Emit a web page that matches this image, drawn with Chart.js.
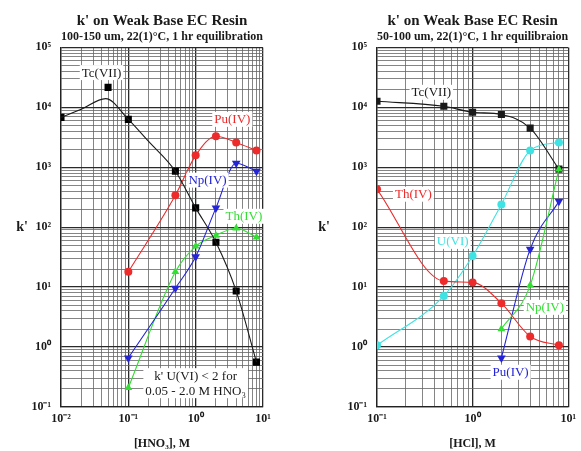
<!DOCTYPE html>
<html lang="en">
<head>
<meta charset="UTF-8">
<title>k' on Weak Base EC Resin</title>
<script src="https://cdn.jsdelivr.net/npm/chart.js"></script>
<style>
  body { margin: 0; background: #fff; }
  .panel { position: absolute; top: 0; }
</style>
</head>
<body>
<canvas id="hno3Chart" class="panel" width="290" height="451" style="left:0"></canvas>
<canvas id="hclChart" class="panel" width="291" height="451" style="left:290px"></canvas>

<script>
// ---- HNO3 panel ----
const hno3Conc = [0.1, 0.5, 1, 2, 4, 8];
const tcHno3Conc = [0.01, 0.05, 0.1, 0.5, 1, 2, 4, 8];
const tcHno3K = [6800, 21500, 6300, 860, 210, 56, 8.6, 0.56];
// fitted curve as drawn in the figure (misses the 0.05 M point)
const tcHno3FitConc = [0.01, 0.02, 0.046, 0.1, 0.2, 0.5, 1, 2, 4, 8];
const tcHno3FitK = [6800, 9300, 14000, 6300, 2700, 860, 210, 56, 8.6, 0.56];
const puHno3K = [18, 340, 1580, 3300, 2600, 1900];
const npHno3K = [0.66, 9.6, 32, 210, 1170, 860];
const thHno3K = [0.21, 18, 48, 73, 96, 68];

// ---- HCl panel ----
const hclConc = [0.1, 0.5, 1, 2, 4, 8];
const tcHclK = [12600, 10400, 8300, 7600, 4500, 930];
const thHclK = [430, 12.6, 12, 5.4, 1.5, 1.07];
const uHclK = [1.07, 7.1, 33, 240, 1900, 2600];
const hclHighConc = [2, 4, 8];
const npHclK = [2.0, 10.7, 930];
const puHclK = [0.66, 43, 270];

// ---- axis decades and their labels ----
const yDecades = [-1, 0, 1, 2, 3, 4, 5];
const yDecadeLabels = ['10\u207B\u00B9', '10\u2070', '10\u00B9', '10\u00B2', '10\u00B3', '10\u2074', '10\u2075'];
const xDecadesHno3 = [-2, -1, 0, 1];
const xDecadeLabelsHno3 = ['10\u207B\u00B2', '10\u207B\u00B9', '10\u2070', '10\u00B9'];
const xDecadesHcl = [-1, 0, 1];
const xDecadeLabelsHcl = ['10\u207B\u00B9', '10\u2070', '10\u00B9'];

const SERIF = '"Liberation Serif", "Times New Roman", serif';
const BLACK = '#1a1a1a', RED = '#ee2b2b', BLUE = '#2424d6', GREEN = '#33df33', CYAN = '#3fe3e3';

const pts = (xs, ys) => xs.map((x, i) => ({ x, y: ys[i] }));

// every 1..9 x 10^n between the first and last decade
function logTicks(decades) {
    const ticks = [];
    for (let i = 0; i < decades.length - 1; i++) {
        for (let k = 1; k <= 9; k++) {
            ticks.push({ value: Number((k * Math.pow(10, decades[i])).toPrecision(3)) });
        }
    }
    ticks.push({ value: Math.pow(10, decades[decades.length - 1]) });
    return ticks;
}

function isDecade(v) {
    const l = Math.log10(v);
    return Math.abs(l - Math.round(l)) < 1e-6;
}

function decadeLabel(decades, labels) {
    return v => isDecade(v) ? labels[decades.indexOf(Math.round(Math.log10(v)))] : '';
}

const gridStyle = {
    color: c => isDecade(c.tick.value) ? '#2a2a2a' : '#666',
    lineWidth: c => isDecade(c.tick.value) ? 1.3 : 0.8,
    drawTicks: false
};

// text labels inside the plot and the upright k' axis label
const notesPlugin = {
    id: 'notes',
    afterDatasetsDraw(chart, args, opts) {
        const { ctx, chartArea } = chart;
        const xs = chart.scales.x, ys = chart.scales.y;
        ctx.save();
        ctx.font = '13px ' + SERIF;
        ctx.textAlign = 'center';
        ctx.textBaseline = 'middle';
        opts.items.forEach(n => {
            const px = xs.getPixelForValue(n.x), py = ys.getPixelForValue(n.y);
            const lines = n.text.split('\n');
            const w = Math.max(...lines.map(l => ctx.measureText(l).width)) + 4;
            const h = lines.length * 15;
            ctx.fillStyle = '#fff';
            ctx.fillRect(px - w / 2, py - h / 2, w, h);
            ctx.fillStyle = n.color;
            lines.forEach((l, i) => ctx.fillText(l, px, py - h / 2 + 8 + i * 15));
        });
        ctx.font = 'bold 14px ' + SERIF;
        ctx.fillStyle = BLACK;
        ctx.fillText("k'", chartArea.left - opts.axisOffset, (chartArea.top + chartArea.bottom) / 2);
        ctx.restore();
    }
};

function makeOptions(subtitle, xTitle, xDecades, xLabels, yWidth, padRight, notes, axisOffset) {
    return {
        responsive: false,
        animation: false,
        layout: { padding: { left: 0, right: padRight, top: 0, bottom: 0 } },
        plugins: {
            legend: { display: false },
            tooltip: { enabled: false },
            title: {
                display: true, fullSize: false,
                text: "k' on Weak Base EC Resin",
                color: BLACK,
                font: { family: SERIF, size: 15, weight: 'bold' },
                padding: { top: 12, bottom: 0 }
            },
            subtitle: {
                display: true, fullSize: false,
                text: subtitle,
                color: BLACK,
                font: { family: SERIF, size: 12, weight: 'bold' },
                padding: { top: 0, bottom: 3 }
            },
            notes: { items: notes, axisOffset }
        },
        scales: {
            x: {
                type: 'logarithmic',
                min: Math.pow(10, xDecades[0]),
                max: Math.pow(10, xDecades[xDecades.length - 1]),
                afterBuildTicks: s => { s.ticks = logTicks(xDecades); },
                afterFit: s => { s.height = 44; },
                grid: gridStyle,
                border: { color: '#222', width: 1.3 },
                ticks: {
                    autoSkip: false, maxRotation: 0, padding: 5,
                    color: BLACK,
                    font: { family: SERIF, size: 12, weight: 'bold' },
                    callback: decadeLabel(xDecades, xLabels)
                },
                title: {
                    display: true, text: xTitle, color: BLACK,
                    font: { family: SERIF, size: 12, weight: 'bold' },
                    padding: { top: 0, bottom: 0 }
                }
            },
            y: {
                type: 'logarithmic',
                min: 0.1,
                max: 100000,
                afterBuildTicks: s => { s.ticks = logTicks(yDecades); },
                afterFit: s => { s.width = yWidth; },
                grid: gridStyle,
                border: { color: '#222', width: 1.3 },
                ticks: {
                    autoSkip: false, padding: 10,
                    color: BLACK,
                    font: { family: SERIF, size: 12, weight: 'bold' },
                    callback: decadeLabel(yDecades, yDecadeLabels)
                }
            }
        }
    };
}

function lineSet(data, color, pointStyle, radius, rotation) {
    return {
        data, borderColor: color, backgroundColor: color,
        borderWidth: 1.1, pointStyle, pointRadius: radius, pointRotation: rotation || 0,
        pointBorderWidth: 0, cubicInterpolationMode: 'monotone'
    };
}

new Chart(document.getElementById('hno3Chart'), {
    type: 'line',
    data: {
        datasets: [
            { data: pts(tcHno3FitConc, tcHno3FitK), borderColor: BLACK, borderWidth: 1.1, pointRadius: 0, cubicInterpolationMode: 'monotone' },
            { data: pts(tcHno3Conc, tcHno3K), showLine: false, pointStyle: 'rect', pointRadius: 5, backgroundColor: '#000', borderColor: '#000', pointBorderWidth: 0 },
            lineSet(pts(hno3Conc, puHno3K), RED, 'circle', 4),
            lineSet(pts(hno3Conc, npHno3K), BLUE, 'triangle', 5, 180),
            lineSet(pts(hno3Conc, thHno3K), GREEN, 'triangle', 4.5)
        ]
    },
    options: makeOptions('100-150 um, 22(1)\u00B0C, 1 hr equilibration', '[HNO\u2083], M',
        xDecadesHno3, xDecadeLabelsHno3, 61, 27, [
            { text: 'Tc(VII)', x: 0.04, y: 38000, color: BLACK },
            { text: 'Pu(IV)', x: 3.5, y: 6300, color: RED },
            { text: 'Np(IV)', x: 1.5, y: 610, color: BLUE },
            { text: 'Th(IV)', x: 5.2, y: 152, color: GREEN },
            { text: "k' U(VI) < 2 for\n0.05 - 2.0 M HNO\u2083", x: 1.0, y: 0.25, color: BLACK }
        ], 39),
    plugins: [notesPlugin]
});

// first dataset is drawn on top, so the green Np(IV) point covers Tc at 8 M
new Chart(document.getElementById('hclChart'), {
    type: 'line',
    data: {
        datasets: [
            lineSet(pts(hclHighConc, npHclK), GREEN, 'triangle', 4.5),
            lineSet(pts(hclConc, tcHclK), BLACK, 'rect', 5),
            lineSet(pts(hclConc, thHclK), RED, 'circle', 4),
            lineSet(pts(hclConc, uHclK), CYAN, 'circle', 4),
            lineSet(pts(hclHighConc, puHclK), BLUE, 'triangle', 5, 180)
        ]
    },
    options: makeOptions('50-100 um, 22(1)\u00B0C, 1 hr equilibraion', '[HCl], M',
        xDecadesHcl, xDecadeLabelsHcl, 87, 8, [
            { text: 'Tc(VII)', x: 0.37, y: 17800, color: BLACK },
            { text: 'Th(IV)', x: 0.24, y: 355, color: RED },
            { text: 'U(VI)', x: 0.62, y: 58, color: CYAN },
            { text: 'Np(IV)', x: 5.7, y: 4.6, color: GREEN },
            { text: 'Pu(IV)', x: 2.5, y: 0.38, color: BLUE }
        ], 53),
    plugins: [notesPlugin]
});
</script>
</body>
</html>
